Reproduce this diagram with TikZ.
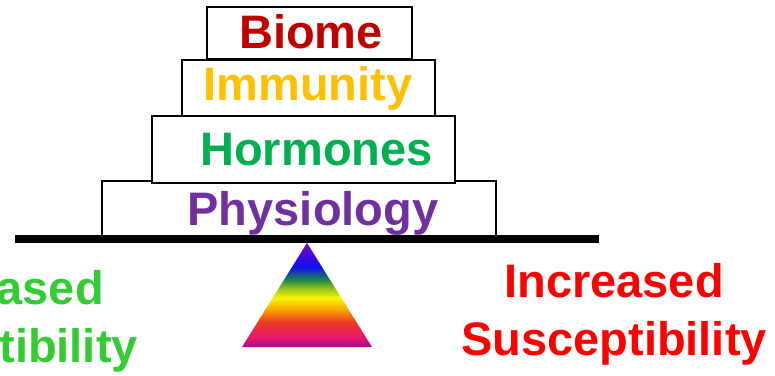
\documentclass[tikz,border=0pt]{standalone}
\usepackage{fontspec}
\setmainfont{Liberation Sans}
\usepackage{xcolor}
\usepackage{tikz}
\usetikzlibrary{positioning}
\definecolor{biome}{HTML}{C00000}
\definecolor{immunity}{HTML}{FFC000}
\definecolor{hormones}{HTML}{00B050}
\definecolor{physiology}{HTML}{7030A0}
\definecolor{lowrisk}{HTML}{33CC33}
\definecolor{highrisk}{HTML}{FF0000}
\definecolor{rbmagenta}{HTML}{B00898}
\definecolor{rbpink}{HTML}{E8186A}
\definecolor{rbred}{HTML}{EC3A24}
\definecolor{rborange}{HTML}{F8A000}
\definecolor{rbyellow}{HTML}{F8F800}
\definecolor{rblime}{HTML}{90C020}
\definecolor{rbgreen}{HTML}{208848}
\definecolor{rbblue}{HTML}{1010F0}
\definecolor{rbviolet}{HTML}{8000C8}
\pgfdeclareverticalshading{rainbow}{100bp}{color(0bp)=(rbmagenta); color(25bp)=(rbmagenta);
  color(29.8bp)=(rbpink); color(37bp)=(rbred); color(42.8bp)=(rborange);
  color(48.5bp)=(rbyellow); color(53.4bp)=(rblime); color(57.2bp)=(rbgreen);
  color(63.5bp)=(rbblue); color(75bp)=(rbviolet); color(100bp)=(rbviolet)}

\begin{document}
\begin{tikzpicture}[
  x=1pt,y=-1pt,
  layerbox/.style={draw=black,line width=1.8pt,fill=white},
  layertext/.style={anchor=base,inner sep=0pt,font=\fontsize{47}{58}\selectfont\bfseries},
  sidetext/.style={layertext,align=center}
]
\useasboundingbox (0,0) rectangle (775,375);
\clip (0,0) rectangle (775,375);
% stacked layers
\draw[layerbox] (102,181) rectangle (496,237);
\draw[layerbox] (152,116) rectangle (455,183);
\draw[layerbox] (182,60) rectangle (435,116);
\draw[layerbox] (207,7) rectangle (412,59);
\node[layertext,text=biome] (biome) at (311,48) {Biome};
\node[layertext,text=immunity] (immunity) at (308,100) {Immunity};
\node[layertext,text=hormones] (hormones) at (316.5,165) {Hormones};
\node[layertext,text=physiology] (physio) at (313,225) {Physiology};
% beam and fulcrum
\fill[black] (15,235) rectangle (599,243);
\shade[shading=rainbow] (307,243) -- (372,347) -- (242,347) -- cycle;
% sides
\node[sidetext,text=lowrisk] (decreased) at (-15,362) {Decreased\\Susceptibility};
\node[sidetext,text=highrisk] (increased) at (614,355) {Increased\\Susceptibility};
\end{tikzpicture}
\end{document}
